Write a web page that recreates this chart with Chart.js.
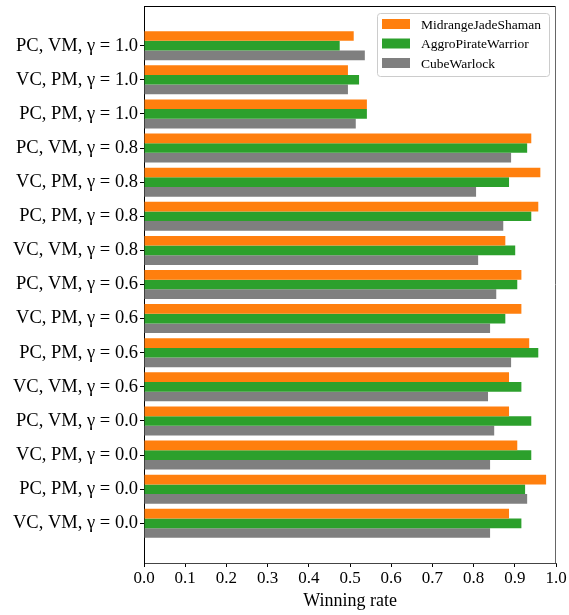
<!DOCTYPE html>
<html>
<head>
<meta charset="utf-8">
<script src="https://cdn.jsdelivr.net/npm/chart.js@4.4.1/dist/chart.umd.min.js"></script>
<style>
  body { margin: 0; background: #fff; }
  #wrap { width: 569px; height: 615px; }
</style>
</head>
<body>
<div id="wrap"><canvas id="bars"></canvas></div>
<script>
// categories listed bottom to top (as in the original plot)
const categories = [
  'VC, VM, γ = 0.0', 'PC, PM, γ = 0.0', 'VC, PM, γ = 0.0', 'PC, VM, γ = 0.0',
  'VC, VM, γ = 0.6', 'PC, PM, γ = 0.6', 'VC, PM, γ = 0.6', 'PC, VM, γ = 0.6',
  'VC, VM, γ = 0.8', 'PC, PM, γ = 0.8', 'VC, PM, γ = 0.8', 'PC, VM, γ = 0.8',
  'PC, PM, γ = 1.0', 'VC, PM, γ = 1.0', 'PC, VM, γ = 1.0'
]
const seriesNames = ['MidrangeJadeShaman', 'AggroPirateWarrior', 'CubeWarlock']
const jadeShaman = [0.886, 0.976, 0.906, 0.886, 0.886, 0.935, 0.916, 0.916, 0.877, 0.957, 0.962, 0.940, 0.541, 0.495, 0.509]
const pirateWarrior = [0.916, 0.925, 0.940, 0.940, 0.916, 0.957, 0.877, 0.906, 0.901, 0.940, 0.886, 0.930, 0.541, 0.522, 0.475]
const cubeWarlock = [0.840, 0.930, 0.840, 0.850, 0.835, 0.891, 0.840, 0.855, 0.811, 0.872, 0.806, 0.891, 0.514, 0.495, 0.536]
const xTicks = [0.0, 0.1, 0.2, 0.3, 0.4, 0.5, 0.6, 0.7, 0.8, 0.9, 1.0]

const colors = ['#ff7f0e', '#2ca02c', '#7f7f7f']
const serif = 'Liberation Serif'
Chart.defaults.font.family = serif
Chart.defaults.color = '#000'

const toPoints = vals => vals.map((v, i) => ({ x: v, y: i }))

// top/right frame and the boxed legend inside the plot
const frameAndLegend = {
  id: 'frameAndLegend',
  afterDraw(chart) {
    const { ctx, chartArea: a } = chart
    ctx.save()
    ctx.lineWidth = 1
    ctx.strokeStyle = '#000'
    ctx.beginPath()
    ctx.moveTo(a.left, a.top + 0.5)
    ctx.lineTo(a.right, a.top + 0.5)
    ctx.stroke()
    ctx.strokeStyle = '#666'
    ctx.beginPath()
    ctx.moveTo(a.right - 0.5, a.top)
    ctx.lineTo(a.right - 0.5, a.bottom)
    ctx.stroke()

    const bx = 377, by = 13, bw = 172, bh = 63
    ctx.fillStyle = 'rgba(255,255,255,0.8)'
    ctx.strokeStyle = '#cccccc'
    ctx.beginPath()
    ctx.roundRect(bx + 0.5, by + 0.5, bw, bh, 3)
    ctx.fill()
    ctx.stroke()
    ctx.font = '13.5px ' + serif
    ctx.textBaseline = 'middle'
    chart.data.datasets.forEach((ds, i) => {
      const cy = by + 11 + i * 19.5
      ctx.fillStyle = ds.backgroundColor
      ctx.fillRect(bx + 5, cy - 5, 28, 10)
      ctx.fillStyle = '#000'
      ctx.fillText(ds.label, bx + 44, cy + 1)
    })
    ctx.restore()
  }
}

new Chart(document.getElementById('bars'), {
  type: 'bar',
  data: {
    datasets: [
      { label: seriesNames[0], data: toPoints(jadeShaman), backgroundColor: colors[0] },
      { label: seriesNames[1], data: toPoints(pirateWarrior), backgroundColor: colors[1] },
      { label: seriesNames[2], data: toPoints(cubeWarlock), backgroundColor: colors[2] }
    ]
  },
  options: {
    indexAxis: 'y',
    responsive: true,
    maintainAspectRatio: false,
    animation: false,
    layout: { padding: { top: 6, right: 13, left: 0, bottom: 0 } },
    datasets: { bar: { categoryPercentage: 0.85, barPercentage: 1.0 } },
    plugins: {
      legend: { display: false },
      tooltip: { enabled: false }
    },
    scales: {
      x: {
        type: 'linear',
        min: 0,
        max: 1,
        afterBuildTicks: s => { s.ticks = xTicks.map(v => ({ value: v })) },
        afterFit: s => { s.height = 52 },
        ticks: {
          font: { size: 17 },
          padding: 1,
          maxRotation: 0,
          callback: v => Number(v).toFixed(1)
        },
        grid: { drawOnChartArea: false, drawTicks: true, tickLength: 4, color: '#000' },
        border: { color: '#444', width: 1 },
        title: {
          display: true,
          text: 'Winning rate',
          font: { size: 18 },
          padding: { top: 0, bottom: 3 }
        }
      },
      y: {
        type: 'linear',
        offset: false,
        min: -1.162,
        max: categories.length - 1 + 1.162,
        afterBuildTicks: s => { s.ticks = categories.map((_, i) => ({ value: i })) },
        afterFit: s => { s.width = 144; s.paddingTop = 0; s.paddingBottom = 0 },
        ticks: {
          font: { size: 18.5 },
          padding: 2,
          callback: v => categories[v]
        },
        grid: { offset: false, drawOnChartArea: false, drawTicks: true, tickLength: 4, color: '#000' },
        border: { color: '#000', width: 1 }
      }
    }
  },
  plugins: [frameAndLegend]
})
</script>
</body>
</html>
